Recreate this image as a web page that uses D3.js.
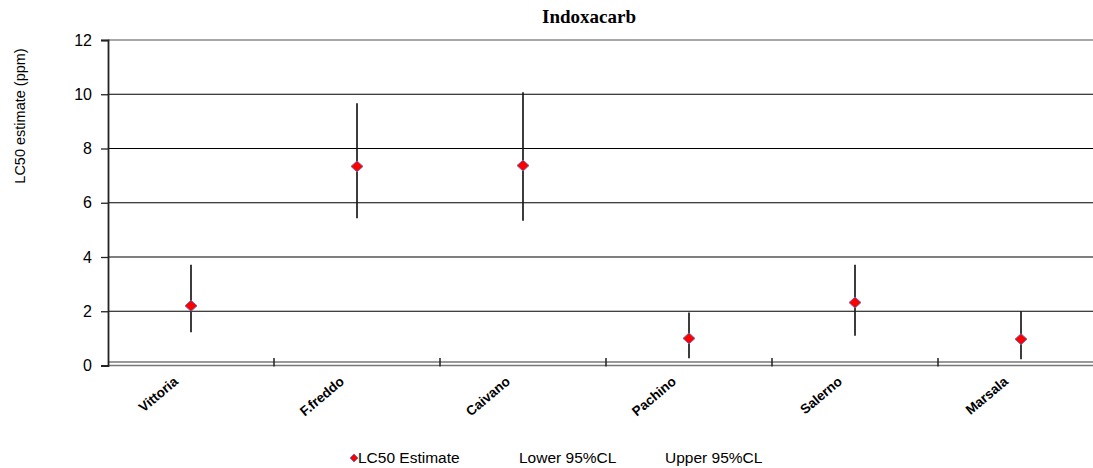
<!DOCTYPE html>
<html>
<head>
<meta charset="utf-8">
<script src="https://cdn.jsdelivr.net/npm/d3@7/dist/d3.min.js"></script>
<style>
  html, body { margin: 0; padding: 0; background: #fff; }
  svg { display: block; }
</style>
</head>
<body>
<svg id="chart" width="1093" height="468"></svg>
<script>
// ---- data ----
const categories = ["Vittoria", "F.freddo", "Caivano", "Pachino", "Salerno", "Marsala"];
const estimate   = [2.20, 7.34, 7.37, 1.00, 2.32, 0.97];
const lower95    = [1.23, 5.43, 5.34, 0.27, 1.10, 0.23];
const upper95    = [3.71, 9.67, 10.07, 1.95, 3.71, 2.00];
const yTicks     = [0, 2, 4, 6, 8, 10, 12];
const legendLabels = ["LC50 Estimate", "Lower 95%CL", "Upper 95%CL"];
const titleText  = "Indoxacarb";
const yLabelText = "LC50 estimate (ppm)";

(function () {
// ---- layout ----
const svg = d3.select("#chart");
const pLeft = 108, pRight = 1104, pTop = 40, pBottom = 365.5;

const x = d3.scaleBand().domain(categories).range([pLeft, pRight]).padding(0);
const y = d3.scaleLinear().domain([0, 12]).range([pBottom, pTop]);

// gridlines
const grid = svg.append("g");
grid.selectAll("line").data(yTicks.filter(d => d > 0)).join("line")
  .attr("x1", pLeft).attr("x2", pRight)
  .attr("y1", d => y(d)).attr("y2", d => y(d))
  .attr("stroke", d => d === 12 ? "#8a8a8a" : "#000")
  .attr("stroke-width", d => d === 12 ? 1.5 : 1.2);

// bottom double line
svg.append("line").attr("x1", pLeft).attr("x2", pRight)
  .attr("y1", y(0) - 3.5).attr("y2", y(0) - 3.5)
  .attr("stroke", "#777").attr("stroke-width", 1.3);
svg.append("line").attr("x1", pLeft).attr("x2", pRight)
  .attr("y1", y(0)).attr("y2", y(0))
  .attr("stroke", "#777").attr("stroke-width", 1.3);

// y axis
const yAxis = d3.axisLeft(y).tickValues(yTicks).tickSize(7).tickPadding(9).tickFormat(d3.format("d"));
const yg = svg.append("g").attr("transform", `translate(${pLeft},0)`).call(yAxis);
yg.select(".domain").attr("stroke", "#222").attr("stroke-width", 1.8);
yg.selectAll(".tick line").attr("stroke", "#222").attr("stroke-width", 1.3);
yg.selectAll(".tick text")
  .attr("font-family", "Arial, 'Liberation Sans', sans-serif")
  .attr("font-size", 16).attr("fill", "#000");

// x category boundary ticks
const boundaries = categories.map(c => x(c)).concat([x(categories[categories.length - 1]) + x.bandwidth()]);
svg.append("g").selectAll("line").data(boundaries.slice(1)).join("line")
  .attr("x1", d => d).attr("x2", d => d)
  .attr("y1", y(0) - 7.5).attr("y2", y(0) + 1)
  .attr("stroke", "#222").attr("stroke-width", 1.5);

// x labels
svg.append("g").selectAll("text").data(categories).join("text")
  .attr("transform", d => `translate(${x(d) + x.bandwidth() / 2 - 12},${y(0) + 17.5}) rotate(-40)`)
  .attr("text-anchor", "end")
  .attr("font-family", "Arial, 'Liberation Sans', sans-serif")
  .attr("font-weight", "bold")
  .attr("font-size", 13.5)
  .attr("fill", "#000")
  .text(d => d);

// error whiskers
const pts = categories.map((c, i) => ({ c, est: estimate[i], lo: lower95[i], hi: upper95[i] }));
svg.append("g").selectAll("line").data(pts).join("line")
  .attr("x1", d => x(d.c) + x.bandwidth() / 2).attr("x2", d => x(d.c) + x.bandwidth() / 2)
  .attr("y1", d => y(d.lo)).attr("y2", d => y(d.hi))
  .attr("stroke", "#1a1a1a").attr("stroke-width", 1.7);

// diamonds
const diamond = (cx, cy, w, h) => `M${cx},${cy - h / 2}L${cx + w / 2},${cy}L${cx},${cy + h / 2}L${cx - w / 2},${cy}Z`;
svg.append("g").selectAll("path").data(pts).join("path")
  .attr("d", d => diamond(x(d.c) + x.bandwidth() / 2, y(d.est), 12, 11))
  .attr("fill", "#ff0000").attr("stroke", "#6a6ab0").attr("stroke-width", 1);

// title
svg.append("text").attr("x", 589).attr("y", 23)
  .attr("text-anchor", "middle")
  .attr("font-family", "'Liberation Serif', 'Times New Roman', serif")
  .attr("font-weight", "bold").attr("font-size", 19).attr("fill", "#000")
  .text(titleText);

// y label
svg.append("text")
  .attr("transform", `translate(25,116) rotate(-90)`)
  .attr("text-anchor", "middle")
  .attr("font-family", "Arial, 'Liberation Sans', sans-serif")
  .attr("font-size", 14.5).attr("fill", "#000")
  .text(yLabelText);

// legend
const legendX = [358, 519, 665];
const lg = svg.append("g");
lg.selectAll("text").data(legendLabels).join("text")
  .attr("x", (d, i) => legendX[i]).attr("y", 463)
  .attr("font-family", "Arial, 'Liberation Sans', sans-serif")
  .attr("font-size", 15.5).attr("fill", "#000")
  .text(d => d);
lg.append("path").attr("d", diamond(354, 458, 8, 8))
  .attr("fill", "#ff0000").attr("stroke", "#6a6ab0").attr("stroke-width", 0.8);
})();
</script>
</body>
</html>
